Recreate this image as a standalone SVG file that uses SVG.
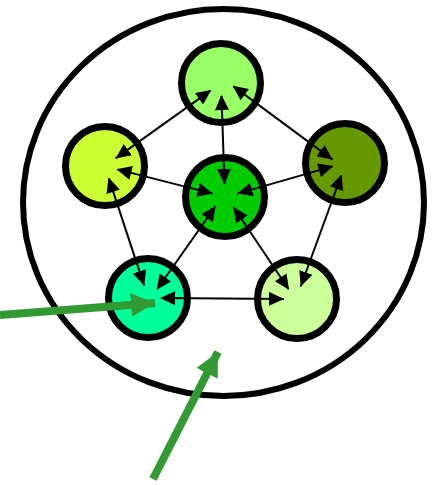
<svg xmlns="http://www.w3.org/2000/svg" width="435" height="485" viewBox="0 0 435 485">
  <defs>
    <marker id="ah" markerUnits="userSpaceOnUse" markerWidth="16" markerHeight="14" refX="15" refY="7" orient="auto">
      <path d="M0,0 L15,7 L0,14 Z" fill="#000"/>
    </marker>
    <marker id="as" markerUnits="userSpaceOnUse" markerWidth="16" markerHeight="14" refX="1" refY="7" orient="auto">
      <path d="M15,0 L0,7 L15,14 Z" fill="#000"/>
    </marker>
    <marker id="gh" markerUnits="userSpaceOnUse" markerWidth="26" markerHeight="26" refX="24" refY="12" orient="auto">
      <path d="M0,0 L24,12 L0,24 Z" fill="#339933"/>
    </marker>
  </defs>
  <style>
    .node { stroke: #000; stroke-width: 7; }
    .edge { stroke: #000; stroke-width: 2; fill: none; marker-start: url(#as); marker-end: url(#ah); }
    .green { stroke: #339933; stroke-width: 8; fill: none; marker-end: url(#gh); }
  </style>
  <ellipse id="boundary" cx="223.5" cy="202.5" rx="200.5" ry="193.5" fill="none" stroke="#000" stroke-width="6"/>
  <g id="n-top"><circle class="node" cx="221" cy="83" r="39.5" fill="#99ff66"/></g>
  <g id="n-left"><circle class="node" cx="105" cy="166" r="39.5" fill="#ccff33"/></g>
  <g id="n-center"><circle class="node" cx="225" cy="197" r="39.5" fill="#00cc00"/></g>
  <g id="n-right"><circle class="node" cx="345" cy="163" r="39.5" fill="#669900"/></g>
  <g id="n-bottomleft"><circle class="node" cx="148" cy="298" r="39.5" fill="#00ff99"/></g>
  <g id="n-bottomright"><circle class="node" cx="297" cy="299" r="39.5" fill="#ccff99"/></g>
  <g id="connectors">
    <line class="edge" x1="210.4" y1="90.6" x2="115.6" y2="158.4"/>
    <line class="edge" x1="233.5" y1="86.4" x2="332.5" y2="159.6"/>
    <line class="edge" x1="221.5" y1="96" x2="224.5" y2="184"/>
    <line class="edge" x1="117.5" y1="169.4" x2="212.5" y2="193.6"/>
    <line class="edge" x1="332.5" y1="166.4" x2="237.5" y2="193.6"/>
    <line class="edge" x1="108.8" y1="178.4" x2="144.2" y2="285.6"/>
    <line class="edge" x1="341.3" y1="175.5" x2="300.7" y2="286.5"/>
    <line class="edge" x1="157.3" y1="289" x2="215.7" y2="206"/>
    <line class="edge" x1="288.5" y1="289" x2="233.5" y2="207"/>
    <line class="edge" x1="161" y1="298.1" x2="284" y2="298.9"/>
    <line class="green" x1="0" y1="315" x2="155" y2="303"/>
    <line class="green" x1="153" y1="479" x2="218" y2="352"/>
  </g>
</svg>
